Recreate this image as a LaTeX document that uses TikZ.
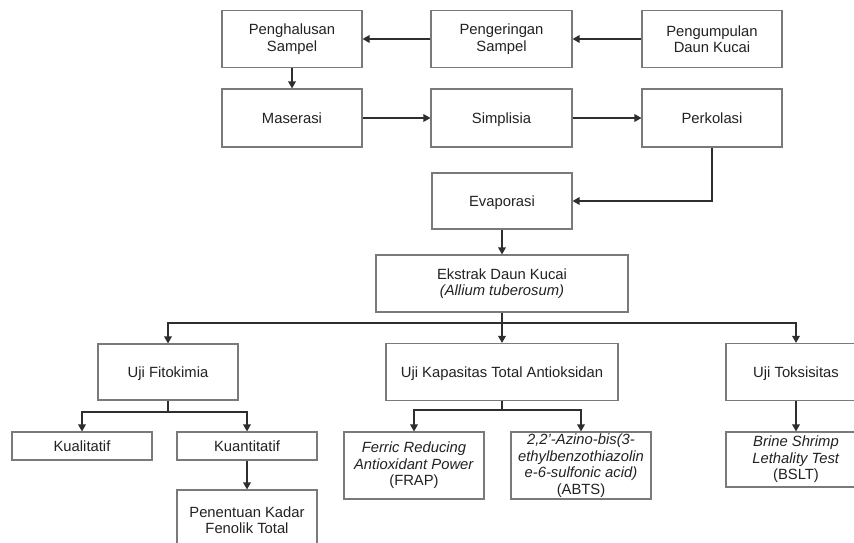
\documentclass[tikz,border=0pt]{standalone}
\usepackage{fontspec}
\setmainfont{Liberation Sans}
\usetikzlibrary{arrows.meta}
\definecolor{boxgray}{HTML}{7A7A7A}
\definecolor{linec}{HTML}{2E2E2E}
\definecolor{textc}{HTML}{222222}
\begin{document}
\begin{tikzpicture}[x=1pt,y=-1pt,
  box/.style={draw=boxgray, line width=1.1pt, fill=white, inner sep=0pt,
    align=center, text=textc, font=\fontsize{14.8}{16.5}\selectfont},
  one/.style={text height=10.6pt, text depth=0pt},
  conn/.style={draw=linec, line width=1.5pt, -{Triangle[length=7pt,width=7.5pt]}},
  plain/.style={draw=linec, line width=1.5pt}]
\useasboundingbox (0,0) rectangle (854,543);
\clip (0,0) rectangle (854,543);
\fill[white] (0,0) rectangle (854,543);
% top rows
\node[box, minimum width=140pt, minimum height=57pt] (pengh) at (292,39) {Penghalusan\\Sampel};
\node[box, minimum width=141pt, minimum height=57pt] (penger) at (501.5,39) {Pengeringan\\Sampel};
\node[box, minimum width=140pt, minimum height=57pt] (pengum) at (712,39) {Pengumpulan\\Daun Kucai};
\node[box, one, minimum width=140pt, minimum height=58pt] (maser) at (292,118) {Maserasi};
\node[box, one, minimum width=141pt, minimum height=58pt] (simpl) at (501.5,118) {Simplisia};
\node[box, one, minimum width=140pt, minimum height=58pt] (perkol) at (712,118) {Perkolasi};
\node[box, one, minimum width=140pt, minimum height=56pt] (evap) at (502,201) {Evaporasi};
\node[box, minimum width=252pt, minimum height=57pt] (ekstrak) at (502,283.5) {Ekstrak Daun Kucai\\\textit{(Allium tuberosum)}};
% third level
\node[box, one, minimum width=140pt, minimum height=56pt] (fito) at (168,372) {Uji Fitokimia};
\node[box, one, minimum width=232pt, minimum height=57pt] (kapas) at (502,372) {Uji Kapasitas Total Antioksidan};
\node[box, one, minimum width=140pt, minimum height=57pt] (toks) at (796,372) {Uji Toksisitas};
% fourth level
\node[box, one, minimum width=140pt, minimum height=28pt] (kual) at (82,446) {Kualitatif};
\node[box, one, minimum width=140pt, minimum height=28pt] (kuan) at (247,446) {Kuantitatif};
\node[box, minimum width=140pt, minimum height=60pt] (penent) at (247,520) {Penentuan Kadar\\Fenolik Total};
\node[box, minimum width=140pt, minimum height=67pt] (frap) at (414,465.5) {\textit{Ferric Reducing}\\\textit{Antioxidant Power}\\(FRAP)};
\node[box, minimum width=140pt, minimum height=67pt] (abts) at (581,465.5) {\textit{2,2'-Azino-bis(3-}\\\textit{ethylbenzothiazolin}\\\textit{e-6-sulfonic acid)}\\(ABTS)};
\node[box, minimum width=140pt, minimum height=55pt] (bslt) at (796,459.5) {\textit{Brine Shrimp}\\\textit{Lethality Test}\\(BSLT)};
% junction coordinates
\coordinate (ej) at (502,323);
\coordinate (fj) at (168,412);
\coordinate (kj) at (502,410);
% connectors
\draw[conn] (pengum.west) -- (penger.east);
\draw[conn] (penger.west) -- (pengh.east);
\draw[conn] (pengh.south) -- (maser.north);
\draw[conn] (maser.east) -- (simpl.west);
\draw[conn] (simpl.east) -- (perkol.west);
\draw[conn] (perkol.south) |- (evap.east);
\draw[conn] (evap.south) -- (ekstrak.north);
\draw[conn] (ekstrak.south) -- (kapas.north);
\draw[conn] (ej) -| (fito.north);
\draw[conn] (ej) -| (toks.north);
\draw[plain] (fito.south) -- (fj);
\draw[conn] (fj) -| (kual.north);
\draw[conn] (fj) -| (kuan.north);
\draw[conn] (kuan.south) -- (penent.north);
\draw[plain] (kapas.south) -- (kj);
\draw[conn] (kj) -| (frap.north);
\draw[conn] (kj) -| (abts.north);
\draw[conn] (toks.south) -- (bslt.north);
\end{tikzpicture}
\end{document}
